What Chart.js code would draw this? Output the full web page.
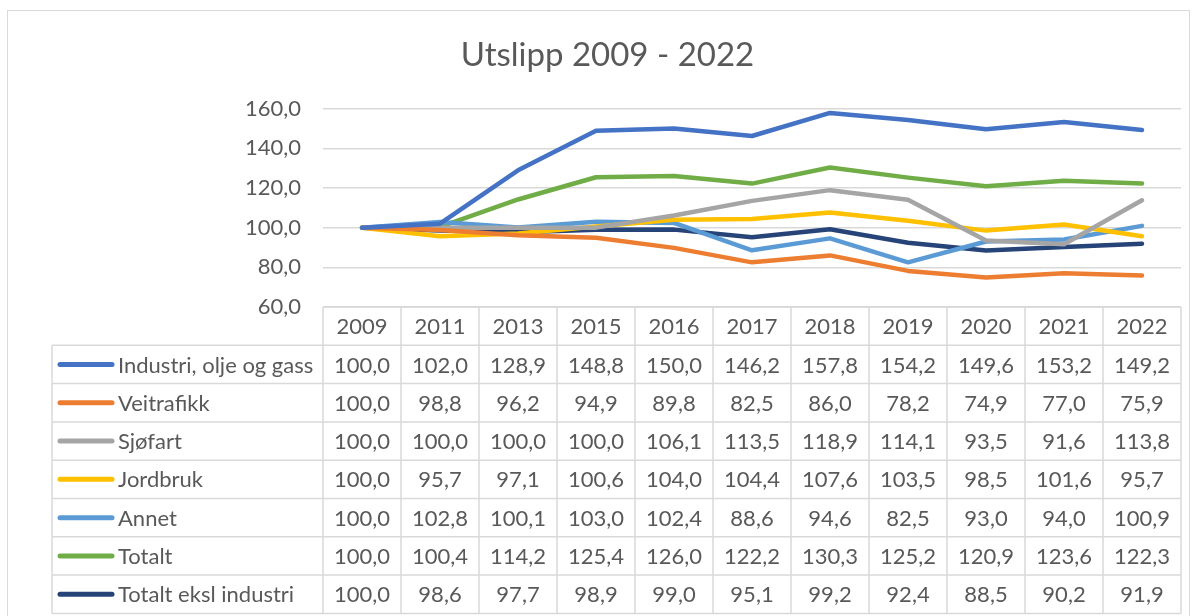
<!DOCTYPE html>
<html>
<head>
<meta charset="utf-8">
<script src="https://cdn.jsdelivr.net/npm/chart.js@4"></script>
<style>
  html, body { margin: 0; padding: 0; background: #fff; }
  #wrap { position: relative; width: 1200px; height: 616px; }
  #frame { position: absolute; left: 7px; top: 10px; width: 1183px; height: 620px; border: 1px solid #d9d9d9; box-sizing: border-box; pointer-events: none; }
</style>
</head>
<body>
<div id="wrap">
  <canvas id="chart" width="1200" height="616"></canvas>
  <div id="frame"></div>
</div>
<script>
const years = ['2009', '2011', '2013', '2015', '2016', '2017', '2018', '2019', '2020', '2021', '2022'];
const industri = [100.0, 102.0, 128.9, 148.8, 150.0, 146.2, 157.8, 154.2, 149.6, 153.2, 149.2];
const veitrafikk = [100.0, 98.8, 96.2, 94.9, 89.8, 82.5, 86.0, 78.2, 74.9, 77.0, 75.9];
const sjofart = [100.0, 100.0, 100.0, 100.0, 106.1, 113.5, 118.9, 114.1, 93.5, 91.6, 113.8];
const jordbruk = [100.0, 95.7, 97.1, 100.6, 104.0, 104.4, 107.6, 103.5, 98.5, 101.6, 95.7];
const annet = [100.0, 102.8, 100.1, 103.0, 102.4, 88.6, 94.6, 82.5, 93.0, 94.0, 100.9];
const totalt = [100.0, 100.4, 114.2, 125.4, 126.0, 122.2, 130.3, 125.2, 120.9, 123.6, 122.3];
const totaltEksl = [100.0, 98.6, 97.7, 98.9, 99.0, 95.1, 99.2, 92.4, 88.5, 90.2, 91.9];
const yTicks = [60, 80, 100, 120, 140, 160];

const FONT = 'Lato, "Open Sans", sans-serif';
const TEXT = '#595959';
const GRID = '#d9d9d9';
const fmt = v => v.toFixed(1).replace('.', ',');

function series(label, data, color) {
    return {
        label: label,
        data: data,
        borderColor: color,
        backgroundColor: color,
        borderWidth: 4.5,
        pointRadius: 0,
        borderCapStyle: 'round',
        borderJoinStyle: 'round',
        tension: 0,
        fill: false
    };
}

// Data table under the plot, with legend keys in the first column
const dataTable = {
    id: 'dataTable',
    afterDraw(chart) {
        const ctx = chart.ctx;
        const x = chart.scales.x;
        const area = chart.chartArea;
        const colW = (area.right - area.left) / years.length;
        const rowH = 38.3;
        const keyLeft = 52;
        const top = area.bottom;
        const rows = chart.data.datasets.length;

        ctx.save();
        ctx.strokeStyle = GRID;
        ctx.lineWidth = 1.5;

        // horizontal lines
        ctx.beginPath();
        ctx.moveTo(area.left, top);
        ctx.lineTo(area.right, top);
        for (let r = 0; r <= rows; r++) {
            const yy = top + rowH * (r + 1);
            ctx.moveTo(keyLeft, yy);
            ctx.lineTo(area.right, yy);
        }
        // vertical lines
        for (let c = 0; c <= years.length; c++) {
            const xx = area.left + colW * c;
            ctx.moveTo(xx, top);
            ctx.lineTo(xx, top + rowH * (rows + 1));
        }
        ctx.moveTo(keyLeft, top + rowH);
        ctx.lineTo(keyLeft, top + rowH * (rows + 1));
        ctx.stroke();

        ctx.fillStyle = TEXT;
        ctx.font = '22px ' + FONT;
        ctx.textBaseline = 'middle';
        ctx.textAlign = 'center';
        years.forEach((yr, i) => {
            ctx.fillText(yr, x.getPixelForValue(i), top + rowH / 2 + 1);
        });

        chart.data.datasets.forEach((ds, r) => {
            const cy = top + rowH * (r + 1.5) + 1;
            // legend key
            ctx.strokeStyle = ds.borderColor;
            ctx.lineWidth = 5;
            ctx.lineCap = 'round';
            ctx.beginPath();
            ctx.moveTo(60, cy - 1);
            ctx.lineTo(112, cy - 1);
            ctx.stroke();

            ctx.fillStyle = TEXT;
            ctx.textAlign = 'left';
            ctx.fillText(ds.label, 118, cy);
            ctx.textAlign = 'center';
            ds.data.forEach((v, i) => {
                ctx.fillText(fmt(v), x.getPixelForValue(i), cy);
            });
        });
        ctx.restore();
    }
};

new Chart(document.getElementById('chart'), {
    type: 'line',
    data: {
        labels: years,
        datasets: [
            series('Industri, olje og gass', industri, '#4472C4'),
            series('Veitrafikk', veitrafikk, '#ED7D31'),
            series('Sjøfart', sjofart, '#A5A5A5'),
            series('Jordbruk', jordbruk, '#FFC000'),
            series('Annet', annet, '#5B9BD5'),
            series('Totalt', totalt, '#70AD47'),
            series('Totalt eksl industri', totaltEksl, '#264478')
        ]
    },
    options: {
        responsive: false,
        animation: false,
        layout: { padding: { top: 0, right: 19, bottom: 0, left: 34 } },
        plugins: {
            legend: { display: false },
            tooltip: { enabled: false },
            title: {
                display: true,
                text: 'Utslipp 2009 - 2022',
                color: TEXT,
                font: { family: FONT, size: 33, weight: 'normal' },
                padding: { top: 36, bottom: 33 }
            }
        },
        scales: {
            x: {
                offset: true,
                ticks: { display: false },
                grid: { display: false },
                border: { display: false },
                afterFit: s => { s.height = 309; }
            },
            y: {
                min: 60,
                max: 160,
                afterBuildTicks: s => { s.ticks = yTicks.map(v => ({ value: v })); },
                afterFit: s => { s.width = 289; },
                ticks: {
                    color: TEXT,
                    font: { family: FONT, size: 22 },
                    padding: 22,
                    callback: v => fmt(v)
                },
                grid: { color: GRID, lineWidth: 1.5, drawTicks: false },
                border: { display: false }
            }
        }
    },
    plugins: [dataTable]
});
</script>
</body>
</html>
